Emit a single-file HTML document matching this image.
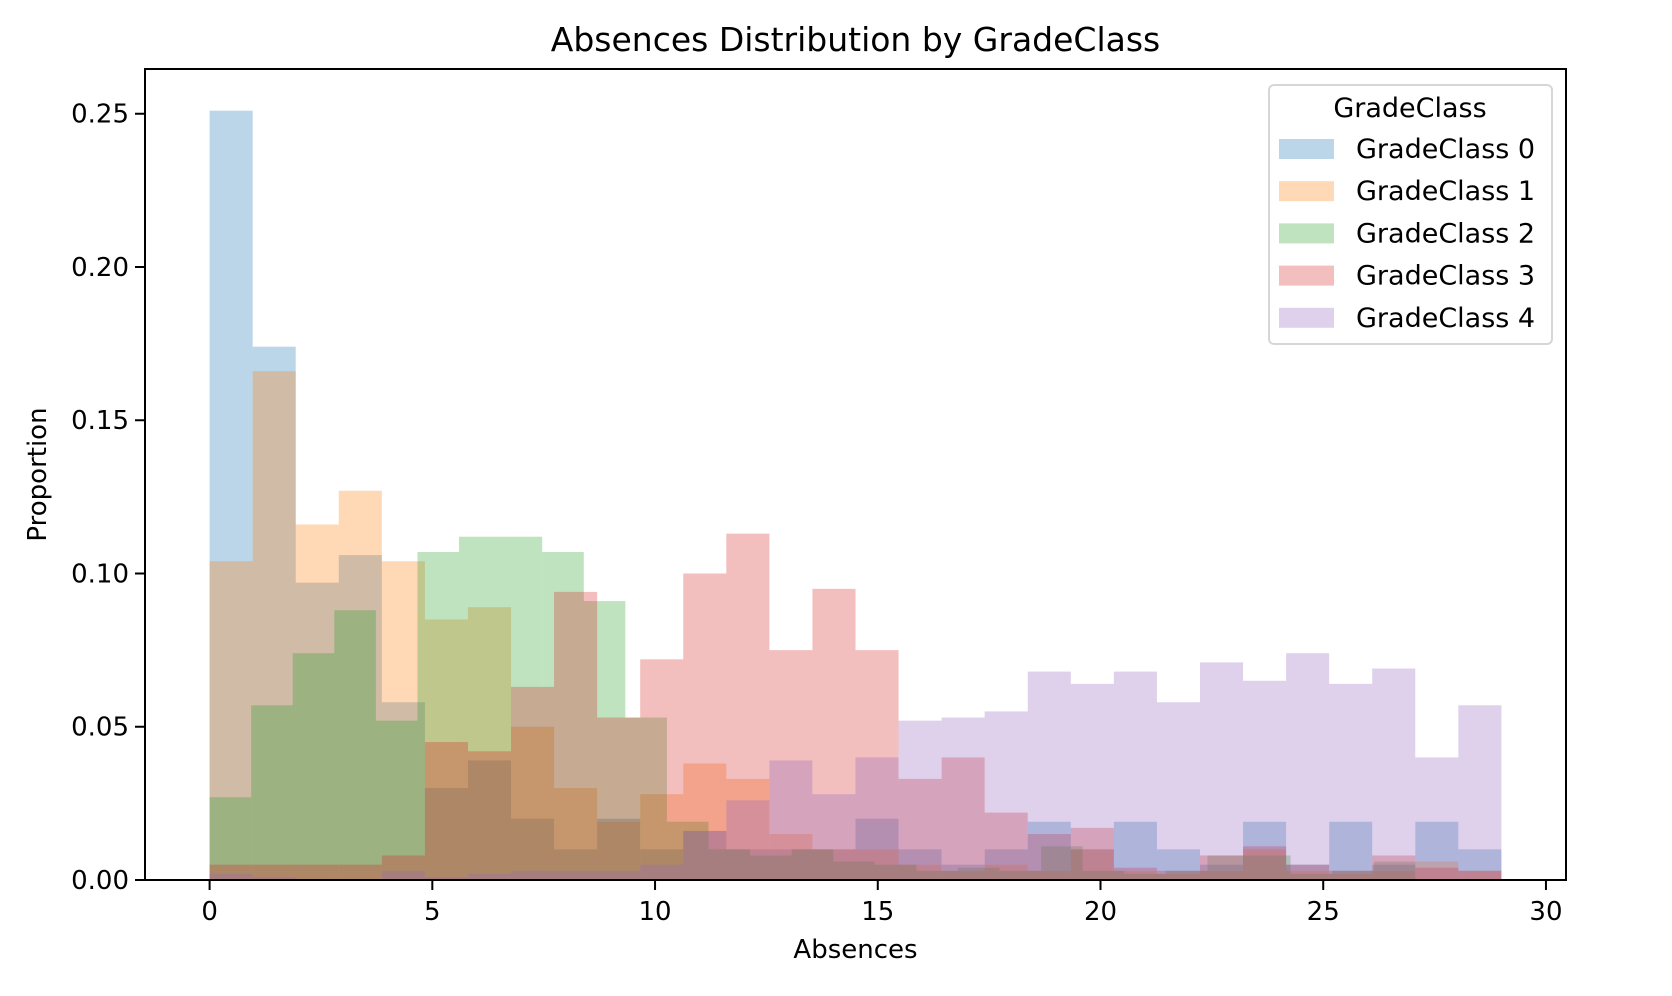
<!DOCTYPE html>
<html><head><meta charset="utf-8">
<style>
html,body{margin:0;padding:0;background:#fff;}
svg{display:block;font-family:"DejaVu Sans","Liberation Sans",sans-serif;}
</style></head>
<body>
<svg id="chart" width="1672" height="996" viewBox="0 0 1672 996" xmlns="http://www.w3.org/2000/svg">
<rect x="0" y="0" width="1672" height="996" fill="#fff"/>
<g id="bars"></g>
<g id="axes"></g>
</svg>
<script>
const classNames = ["GradeClass 0","GradeClass 1","GradeClass 2","GradeClass 3","GradeClass 4"];
const binMax = [29, 29, 28, 29, 29];
const class0 = [0.251,0.174,0.097,0.106,0.058,0.030,0.039,0.020,0.010,0.020,0.010,0.016,0.010,0.010,0.010,0.020,0.010,0.005,0.010,0.019,0.010,0.019,0.010,0.005,0.019,0.005,0.019,0.005,0.019,0.010];
const class1 = [0.104,0.166,0.116,0.127,0.104,0.085,0.089,0.050,0.030,0.019,0.028,0.038,0.033,0.015,0.010,0.010,0.005,0.003,0.005,0.003,0.010,0.003,0.002,0.003,0.010,0.003,0.002,0.003,0.006,0.003];
const class2 = [0.027,0.057,0.074,0.088,0.052,0.107,0.112,0.112,0.107,0.091,0.053,0.019,0.010,0.008,0.010,0.006,0.005,0.003,0.004,0.003,0.011,0.003,0.002,0.003,0.008,0.008,0.002,0.003,0.006,0.000];
const class3 = [0.005,0.005,0.005,0.005,0.008,0.045,0.042,0.063,0.094,0.053,0.072,0.100,0.113,0.075,0.095,0.075,0.033,0.040,0.022,0.015,0.017,0.004,0.003,0.008,0.011,0.005,0.003,0.008,0.004,0.003];
const class4 = [0.002,0.001,0.000,0.000,0.003,0.001,0.002,0.003,0.003,0.003,0.005,0.016,0.026,0.039,0.028,0.040,0.052,0.053,0.055,0.068,0.064,0.068,0.058,0.071,0.065,0.074,0.064,0.069,0.040,0.057];
const seriesValues = [class0, class1, class2, class3, class4];
const colors = ["#1f77b4","#ff7f0e","#2ca02c","#d62728","#9467bd"];
const xTicks = [0,5,10,15,20,25,30];
const yTicks = [0,0.05,0.10,0.15,0.20,0.25];
const yTickLabels = ["0.00","0.05","0.10","0.15","0.20","0.25"];

const L=145,R=1566,T=69,B=880;
const xmin=-1.45,xmax=30.45,ymin=0,ymax=0.2646;
const xs=v=>L+(v-xmin)/(xmax-xmin)*(R-L);
const ys=v=>B-(v-ymin)/(ymax-ymin)*(B-T);
const NS="http://www.w3.org/2000/svg";
function mk(tag,attrs,parent){const e=document.createElementNS(NS,tag);for(const k in attrs)e.setAttribute(k,attrs[k]);parent.appendChild(e);return e;}
const bars=document.getElementById('bars');
const axes=document.getElementById('axes');

seriesValues.forEach((vals,ci)=>{
  const n=vals.length, w=binMax[ci]/n;
  vals.forEach((v,i)=>{
    if(v<=0) return;
    const x0=xs(i*w), x1=xs((i+1)*w);
    const r=mk('rect',{x:x0,y:ys(v),width:x1-x0,height:ys(0)-ys(v),fill:colors[ci],'fill-opacity':0.3},bars);
    
    
  });
});

const frame=mk('rect',{x:L,y:T,width:R-L,height:B-T,fill:'none',stroke:'#000','stroke-width':2},axes);



xTicks.forEach(t=>{
  const x=xs(t);
  const tk=mk('line',{x1:x,x2:x,y1:B,y2:B+10,stroke:'#000','stroke-width':2},axes);
  
  
  const tx=mk('text',{x:x,y:B+40,'text-anchor':'middle','font-size':26,fill:'#000'},axes);
  tx.textContent=String(t);
  
  
});
yTicks.forEach((t,i)=>{
  const y=ys(t);
  const tk=mk('line',{x1:L-10,x2:L,y1:y,y2:y,stroke:'#000','stroke-width':2},axes);
  
  
  const tx=mk('text',{x:L-16,y:y+9,'text-anchor':'end','font-size':26,fill:'#000'},axes);
  tx.textContent=yTickLabels[i];
  
  
});

const title=mk('text',{x:(L+R)/2,y:51,'text-anchor':'middle','font-size':33,fill:'#000'},axes);
title.textContent='Absences Distribution by GradeClass';


const xl=mk('text',{x:(L+R)/2,y:958,'text-anchor':'middle','font-size':26,fill:'#000'},axes);
xl.textContent='Absences';


const yl=mk('text',{x:0,y:0,'text-anchor':'middle','font-size':26,fill:'#000',transform:'translate(46,'+((T+B)/2)+') rotate(-90)'},axes);
yl.textContent='Proportion';



const lg=mk('g',{},axes);


mk('rect',{x:1269,y:85,width:283,height:259,rx:5,fill:'#fff','fill-opacity':0.8,stroke:'#d6d6d6','stroke-width':2},lg);
const lt=mk('text',{x:1410,y:117,'text-anchor':'middle','font-size':27,fill:'#000'},lg);
lt.textContent='GradeClass';


classNames.forEach((nm,i)=>{
  const cy=149+i*42.2;
  const sw=mk('rect',{x:1279,y:cy-10,width:55,height:20,fill:colors[i],'fill-opacity':0.3},lg);
  
  
  const tx=mk('text',{x:1356,y:cy+9,'font-size':27,fill:'#000'},lg);
  tx.textContent=nm;
  
  
});
</script>
</body></html>
